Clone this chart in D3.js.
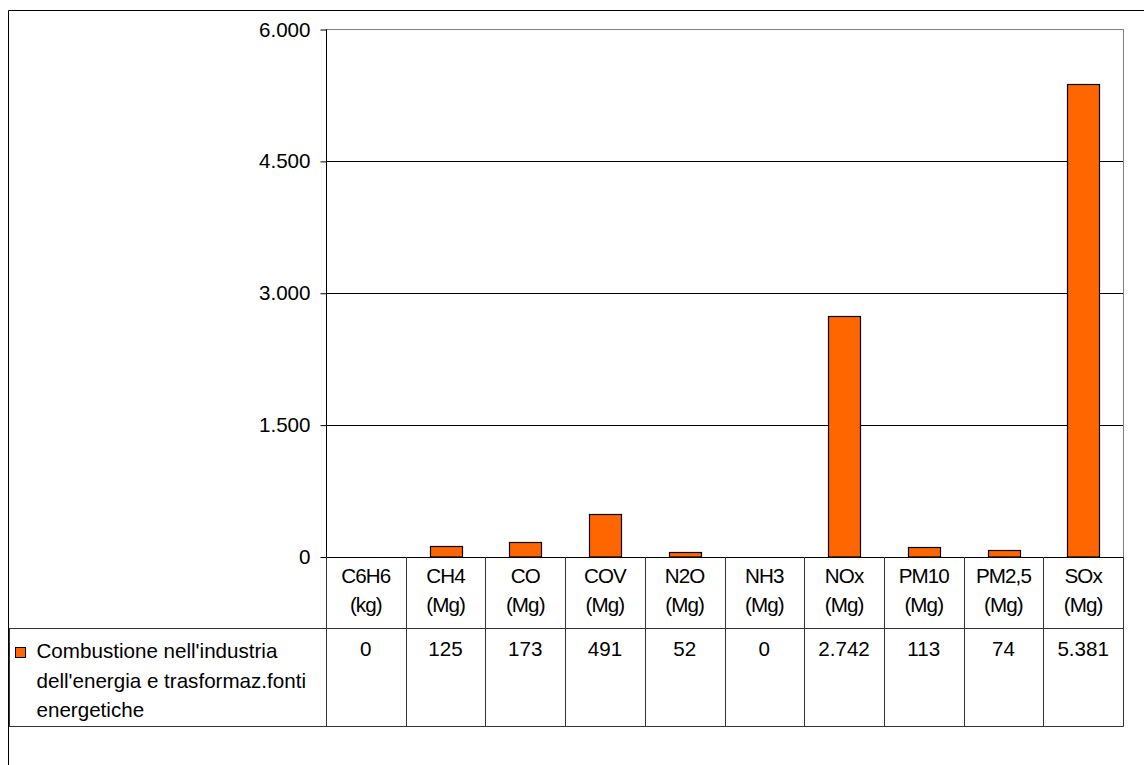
<!DOCTYPE html>
<html>
<head>
<meta charset="utf-8">
<script src="https://cdn.jsdelivr.net/npm/d3@7"></script>
<style>
  html, body { margin: 0; padding: 0; background: #fff; }
  svg { display: block; font-family: "Liberation Sans", Arial, sans-serif; }
</style>
</head>
<body>
<svg id="chart" width="1144" height="765"></svg>
<script>
// ---- data ----
const categories = ["C6H6", "CH4", "CO", "COV", "N2O", "NH3", "NOx", "PM10", "PM2,5", "SOx"];
const units = ["(kg)", "(Mg)", "(Mg)", "(Mg)", "(Mg)", "(Mg)", "(Mg)", "(Mg)", "(Mg)", "(Mg)"];
const values = [0, 125, 173, 491, 52, 0, 2742, 113, 74, 5381];
const seriesName = ["Combustione nell'industria", "dell'energia e trasformaz.fonti", "energetiche"];
const yTicks = [0, 1500, 3000, 4500, 6000];

// ---- layout ----
const svg = d3.select("#chart");
const plot = { left: 326, right: 1123, top: 29.5, bottom: 557 };
const headerBottom = 628;
const tableBottom = 726;
const tableLeft = 9;
const orange = "#FF6600";
const fs = 20.6;

const itLocale = d3.formatLocale({ decimal: ",", thousands: ".", grouping: [3], currency: ["", " €"] });
const fmt = itLocale.format(",d");

const x = d3.scaleBand().domain(categories).range([plot.left, plot.right]).paddingInner(0).paddingOuter(0);
const y = d3.scaleLinear().domain([0, 6000]).range([plot.bottom, plot.top]);

// outer frame (only top/left visible)
svg.append("line").attr("x1", 8.5).attr("x2", 1144).attr("y1", 10.5).attr("y2", 10.5).attr("stroke", "#000").attr("stroke-width", 1);
svg.append("line").attr("x1", 8.5).attr("x2", 8.5).attr("y1", 10.5).attr("y2", 765).attr("stroke", "#000").attr("stroke-width", 1);

// plot area border (gray top/right)
svg.append("line").attr("x1", plot.left).attr("x2", plot.right + 0.5).attr("y1", plot.top).attr("y2", plot.top).attr("stroke", "#808080");
svg.append("line").attr("x1", plot.right + 0.5).attr("x2", plot.right + 0.5).attr("y1", plot.top).attr("y2", plot.bottom).attr("stroke", "#808080");

// gridlines
svg.append("g").selectAll("line").data(yTicks.filter(d => d > 0 && d < 6000)).join("line")
  .attr("x1", plot.left).attr("x2", plot.right)
  .attr("y1", d => Math.round(y(d)) + 0.5).attr("y2", d => Math.round(y(d)) + 0.5)
  .attr("stroke", "#000");

// y axis
const yAxis = d3.axisLeft(y).tickValues(yTicks).tickFormat(fmt).tickSize(6).tickPadding(10);
const gy = svg.append("g").attr("transform", `translate(${plot.left + 0.5},0)`).call(yAxis);
gy.select(".domain").attr("stroke", "#000").attr("d", `M0,${plot.top}V${plot.bottom}`);
gy.selectAll(".tick line").attr("stroke", "#000");
gy.selectAll(".tick text").attr("font-size", fs).attr("fill", "#000").attr("font-family", "Liberation Sans, Arial, sans-serif");

// bars
const bw = x.bandwidth() * 0.4;
svg.append("g").selectAll("rect").data(values).join("rect")
  .attr("x", (d, i) => Math.round(x(categories[i]) + (x.bandwidth() - bw) / 2) + 0.5)
  .attr("y", d => Math.round(y(d)) + 0.5)
  .attr("width", Math.round(bw))
  .attr("height", d => Math.max(0, plot.bottom - Math.round(y(d)) - 0.5))
  .attr("fill", orange)
  .attr("stroke", "#000")
  .attr("stroke-width", 1.2)
  .style("display", d => d > 0 ? null : "none");

// table lines
const tl = svg.append("g").attr("stroke", "#333").attr("stroke-width", 1);
tl.append("line").attr("x1", plot.left).attr("x2", plot.right + 0.5).attr("y1", plot.bottom + 0.5).attr("y2", plot.bottom + 0.5).attr("stroke", "#000");
tl.append("line").attr("x1", tableLeft).attr("x2", plot.right + 0.5).attr("y1", headerBottom + 0.5).attr("y2", headerBottom + 0.5);
tl.append("line").attr("x1", tableLeft).attr("x2", plot.right + 0.5).attr("y1", tableBottom + 0.5).attr("y2", tableBottom + 0.5);
tl.append("line").attr("x1", tableLeft + 0.5).attr("x2", tableLeft + 0.5).attr("y1", headerBottom).attr("y2", tableBottom + 0.5);
const bounds = categories.map(c => x(c)).concat([plot.right]);
tl.selectAll("line.col").data(bounds).join("line").attr("class", "col")
  .attr("x1", d => Math.round(d) + 0.5).attr("x2", d => Math.round(d) + 0.5)
  .attr("y1", plot.bottom).attr("y2", tableBottom + 0.5);

// header text
const hdr = svg.append("g").attr("font-size", fs).attr("text-anchor", "middle").attr("fill", "#000").attr("letter-spacing", "-0.9");
hdr.selectAll("text.cat").data(categories).join("text").attr("class", "cat")
  .attr("x", d => x(d) + x.bandwidth() / 2).attr("y", 583).text(d => d);
hdr.selectAll("text.unit").data(units).join("text").attr("class", "unit")
  .attr("x", (d, i) => x(categories[i]) + x.bandwidth() / 2).attr("y", 611.5).text(d => d);

// values row
svg.append("g").attr("font-size", fs).attr("text-anchor", "middle").attr("fill", "#000")
  .selectAll("text").data(values).join("text")
  .attr("x", (d, i) => x(categories[i]) + x.bandwidth() / 2).attr("y", 656).text(d => fmt(d));

// legend key
svg.append("rect").attr("x", 15.5).attr("y", 647.5).attr("width", 10).attr("height", 10)
  .attr("fill", orange).attr("stroke", "#000").attr("stroke-width", 1);
svg.append("g").attr("font-size", fs).attr("fill", "#000")
  .selectAll("text").data(seriesName).join("text")
  .attr("x", 36.5).attr("y", (d, i) => 658 + i * 29.5).text(d => d);
</script>
</body>
</html>
